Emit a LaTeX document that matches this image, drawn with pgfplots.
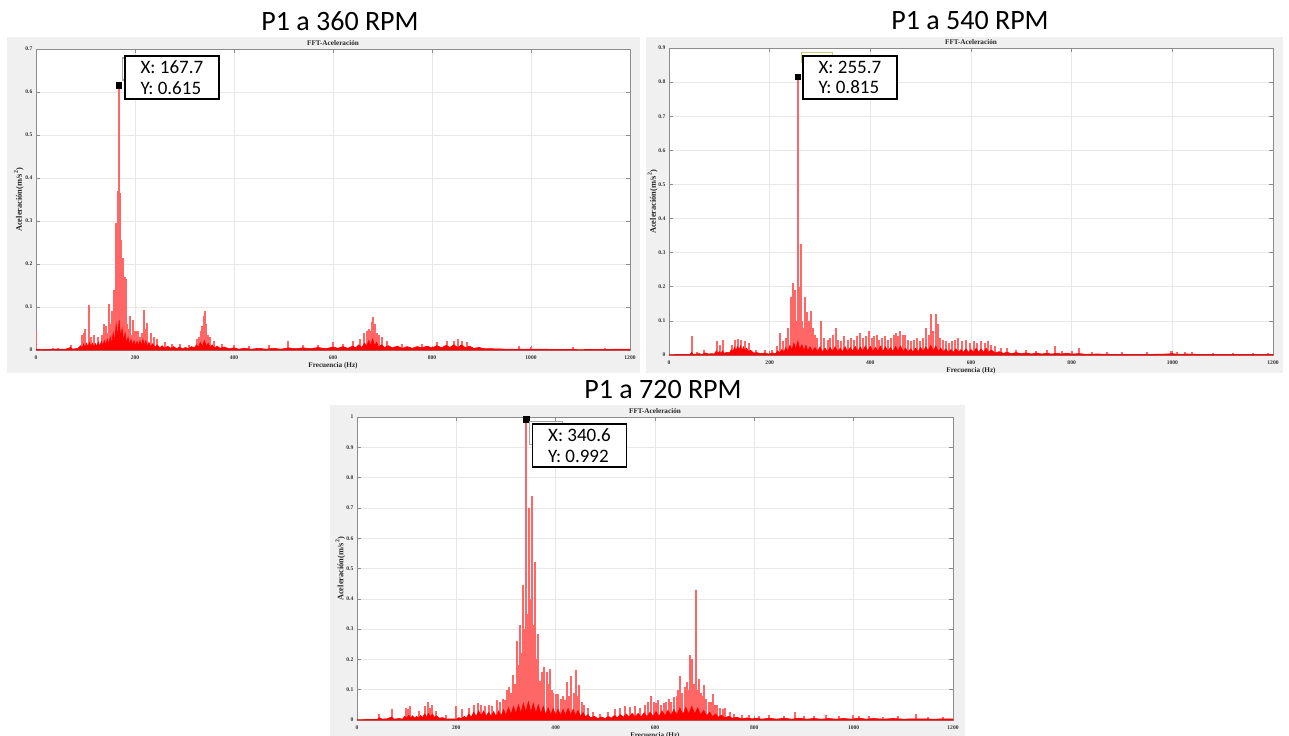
\documentclass[border=0pt]{standalone}
\usepackage{pgfplots}
\pgfplotsset{compat=1.18}
\usepackage{fontspec}
\setmainfont{Liberation Serif}
\newfontfamily\calfont{Carlito}

% MATLAB-like figure style
\newcommand{\tickfont}{\fontsize{2.8}{3.2}\selectfont\bfseries}
\newcommand{\labfont}{\fontsize{3.6}{4.2}\selectfont\bfseries}
\newcommand{\ylabfont}{\fontsize{4.2}{4.8}\selectfont\bfseries}
\pgfplotsset{
  mat/.style={
    scale only axis, anchor=south west,
    xmin=0, xmax=1200, ymin=0,
    xtick={0,200,400,600,800,1000,1200},
    axis background/.style={fill=white},
    axis line style={black!45, line width=0.3pt},
    tick style={black!45, line width=0.3pt},
    major tick length=2pt,
    tick align=inside, xtick pos=both, ytick pos=both,
    grid=major, major grid style={gray!18, line width=0.3pt},
    ticklabel style={font=\tickfont, text=black!80},
    /pgf/number format/assume math mode=true,
    /pgf/number format/1000 sep={},
    xticklabel style={anchor=center, yshift=-3.6pt},
    yticklabel style={anchor=east, inner sep=0pt, xshift=-1.6pt,
      /pgf/number format/fixed, /pgf/number format/precision=1},
    title={FFT-Aceleración},
    title style={font=\labfont, text=black!85, at={(axis description cs:0.5,1.02)}, anchor=center, inner sep=0pt, yshift=-6pt},
    xlabel={Frecuencia (Hz)},
    xlabel style={font=\labfont, text=black!85, at={(axis description cs:0.5,-0.053)}, anchor=center, inner sep=0pt},
    ylabel={Aceleración(m/s\textsuperscript{2})},
    ylabel style={font=\ylabfont, text=black!85, at={(axis description cs:-0.029,0.5)}, anchor=center, inner sep=0pt},
  },
  floor/.style={red, fill=red, line width=0.3pt, mark=none},
  comb/.style={ycomb, red!60, line width=1pt, mark=none},
  tip/.style={only marks, mark=square*, mark size=1.4pt, mark options={black}},
}

\begin{document}
\begin{tikzpicture}
\useasboundingbox (0pt,0pt) rectangle (644.5pt,-367.5pt);
\clip (0pt,0pt) rectangle (644.5pt,-367.5pt);

% figure backgrounds
\fill[gray!12] (3.5pt,-18.5pt) rectangle (320pt,-186.5pt);
\fill[gray!12] (323pt,-18.5pt) rectangle (641.5pt,-186.5pt);
\fill[gray!12] (165pt,-202.5pt) rectangle (482.5pt,-370pt);

% ---------- P1 a 360 RPM ----------
\begin{axis}[mat, at={(18pt,-175pt)}, width=297pt, height=150.5pt,
  ymax=0.7, ytick={0,0.1,0.2,0.3,0.4,0.5,0.6,0.7}]
\addplot[comb] coordinates {
(0,0.045) (35,0.004) (45,0.005) (70,0.012) (93,0.035) (96,0.04) (99,0.05) (107,0.105) (112,0.03)
(118,0.035) (126,0.03) (133,0.035) (138,0.06) (141,0.055) (145,0.04) (148,0.107) (151,0.06)
(154,0.09) (157,0.14) (159,0.12) (162,0.295) (164,0.14) (166,0.37) (167.7,0.615) (169,0.365)
(171,0.255) (173,0.2) (175,0.215) (177,0.16) (179,0.17) (181,0.165) (184,0.06) (187,0.05)
(190,0.08) (193,0.035) (195,0.07) (199,0.045) (203,0.045) (207,0.045) (211,0.03) (215,0.04)
(219,0.093) (222,0.05) (225,0.062) (232,0.04) (238,0.03) (245,0.025) (260,0.018) (275,0.015)
(290,0.015) (310,0.012) (325,0.025) (330,0.03) (333,0.045) (336,0.055) (339,0.08) (341,0.09)
(344,0.06) (347,0.035) (352,0.03) (360,0.02) (375,0.015) (400,0.012) (430,0.01) (470,0.012)
(510,0.02) (540,0.012) (570,0.012) (600,0.018) (620,0.015) (640,0.02) (655,0.025) (662,0.04)
(668,0.045) (672,0.05) (675,0.045) (678,0.065) (681,0.077) (684,0.06) (688,0.04) (692,0.035)
(698,0.03) (710,0.02) (740,0.015) (780,0.015) (810,0.018) (830,0.02) (845,0.022) (853,0.025)
(860,0.022) (870,0.018) (976,0.01) (1000,0.006) (1084,0.008) (1150,0.004)};
\addplot[floor] coordinates {
(0,0.002) (10,0.001) (40,0.002) (60,0.002) (70,0.006) (74,0.002) (85,0.004)
(90,0.01) (93,0.004) (96,0.014) (99,0.006) (102,0.016) (105,0.007) (108,0.018) (111,0.008)
(114,0.016) (117,0.007) (120,0.015) (123,0.008) (126,0.018) (129,0.009) (132,0.02) (135,0.01)
(138,0.022) (141,0.012) (144,0.025) (147,0.012) (150,0.03) (153,0.015) (156,0.04) (159,0.02)
(162,0.06) (165,0.03) (168,0.07) (171,0.03) (174,0.05) (177,0.02) (180,0.04) (183,0.015)
(186,0.03) (189,0.012) (192,0.025) (195,0.01) (198,0.022) (201,0.01) (204,0.02) (207,0.01)
(210,0.022) (213,0.01) (216,0.025) (219,0.01) (222,0.022) (225,0.008) (228,0.018) (232,0.007)
(236,0.015) (240,0.006) (245,0.012) (250,0.005) (255,0.01) (260,0.004) (266,0.009) (272,0.004)
(278,0.008) (284,0.003) (290,0.007) (296,0.003) (302,0.006) (308,0.003) (314,0.008) (320,0.005)
(324,0.012) (328,0.006) (332,0.018) (336,0.008) (340,0.022) (344,0.009) (348,0.016) (352,0.006)
(356,0.012) (360,0.005) (366,0.009) (372,0.004) (380,0.007) (390,0.003) (400,0.005) (410,0.002)
(420,0.004) (435,0.002) (450,0.004) (465,0.002) (480,0.004) (495,0.002) (510,0.005) (525,0.003)
(540,0.005) (555,0.003) (570,0.006) (585,0.003) (600,0.007) (610,0.004) (620,0.008) (630,0.004)
(640,0.009) (646,0.005) (652,0.012) (658,0.006) (664,0.016) (668,0.008) (672,0.022) (676,0.01)
(680,0.026) (684,0.01) (688,0.018) (692,0.007) (698,0.012) (704,0.006) (712,0.01) (720,0.005)
(730,0.009) (740,0.004) (750,0.008) (760,0.004) (770,0.008) (780,0.005) (790,0.009) (800,0.005)
(810,0.01) (820,0.005) (828,0.011) (836,0.006) (844,0.012) (852,0.006) (860,0.012) (868,0.005)
(876,0.009) (884,0.004) (895,0.006) (905,0.003) (920,0.003) (950,0.002) (1000,0.002)
(1100,0.001) (1200,0.002)} \closedcycle;
\addplot[tip] coordinates {(167.7,0.615)};
\end{axis}

% ---------- P1 a 540 RPM ----------
\begin{axis}[mat, at={(334.5pt,-177.5pt)}, width=302pt, height=153.5pt,
  ymax=0.9, ytick={0,0.1,0.2,0.3,0.4,0.5,0.6,0.7,0.8,0.9},
  xlabel style={at={(axis description cs:0.5,-0.052)}},
  ylabel style={at={(axis description cs:-0.027,0.5)}}]
\addplot[comb] coordinates {
(45,0.055) (55,0.01) (70,0.015) (95,0.04) (101,0.03) (107,0.045) (125,0.03) (132,0.045)
(138,0.048) (143,0.045) (150,0.04) (158,0.035) (172,0.015) (190,0.015) (205,0.015) (215,0.025)
(220,0.065) (226,0.04) (232,0.05) (237,0.08) (242,0.17) (245,0.12) (247,0.21) (249,0.15)
(251,0.19) (253,0.1) (255.7,0.815) (258,0.2) (260,0.12) (262,0.325) (265,0.1) (268,0.08)
(270,0.17) (272,0.11) (274,0.125) (276,0.08) (278,0.1) (282,0.13) (286,0.08) (290,0.06)
(295,0.05) (301,0.1) (308,0.05) (315,0.045) (320,0.05) (325,0.06) (331,0.08) (336,0.045)
(342,0.04) (348,0.055) (355,0.045) (362,0.05) (368,0.045) (374,0.055) (380,0.065) (386,0.05)
(392,0.055) (398,0.07) (403,0.05) (408,0.055) (413,0.06) (418,0.045) (424,0.05) (430,0.055)
(436,0.045) (442,0.05) (447,0.06) (451,0.065) (455,0.055) (459,0.07) (464,0.06) (469,0.06)
(474,0.045) (480,0.04) (486,0.045) (492,0.05) (498,0.04) (505,0.05) (511,0.08) (516,0.06)
(521,0.12) (525,0.07) (530,0.12) (534,0.09) (538,0.05) (544,0.045) (550,0.04) (556,0.035)
(562,0.04) (568,0.045) (575,0.05) (582,0.04) (590,0.045) (598,0.035) (605,0.04) (612,0.035)
(620,0.04) (628,0.035) (634,0.042) (640,0.03) (648,0.025) (660,0.02) (672,0.02) (690,0.015)
(710,0.015) (730,0.012) (750,0.015) (767,0.025) (780,0.012) (800,0.012) (814,0.02) (840,0.01)
(870,0.008) (900,0.008) (950,0.008) (998,0.012) (1010,0.01) (1025,0.009) (1040,0.01)
(1080,0.006) (1120,0.005) (1160,0.006) (1190,0.005)};
\addplot[floor] coordinates {
(0,0.001) (30,0.002) (42,0.002) (45,0.008) (48,0.002) (60,0.004) (66,0.002) (72,0.006) (78,0.003)
(85,0.004) (90,0.003) (94,0.012) (97,0.005) (100,0.01) (103,0.004) (106,0.012) (110,0.005)
(116,0.008) (120,0.006) (124,0.016) (127,0.01) (130,0.022) (133,0.012) (136,0.025) (139,0.014)
(142,0.026) (145,0.013) (148,0.024) (151,0.012) (154,0.02) (158,0.01) (162,0.014) (168,0.006)
(175,0.007) (182,0.004) (190,0.006) (198,0.003) (206,0.006) (212,0.004) (216,0.012) (220,0.006)
(224,0.016) (228,0.008) (232,0.022) (236,0.01) (240,0.028) (244,0.014) (248,0.035) (252,0.016)
(256,0.04) (260,0.016) (264,0.03) (268,0.012) (272,0.028) (276,0.012) (280,0.024) (285,0.01)
(290,0.022) (295,0.01) (300,0.024) (305,0.009) (310,0.02) (315,0.01) (320,0.022) (325,0.01)
(330,0.024) (335,0.01) (340,0.02) (345,0.01) (350,0.024) (355,0.01) (360,0.022) (365,0.011)
(370,0.025) (375,0.01) (380,0.024) (385,0.011) (390,0.026) (395,0.012) (400,0.025) (405,0.01)
(410,0.022) (415,0.011) (420,0.026) (425,0.01) (430,0.024) (435,0.011) (440,0.022) (445,0.01)
(450,0.025) (455,0.012) (460,0.026) (465,0.01) (470,0.02) (475,0.009) (480,0.018) (485,0.009)
(490,0.02) (495,0.01) (500,0.022) (505,0.01) (510,0.024) (515,0.012) (520,0.028) (525,0.012)
(530,0.026) (535,0.01) (540,0.02) (545,0.009) (550,0.018) (555,0.008) (560,0.016) (565,0.008)
(570,0.018) (575,0.008) (580,0.016) (585,0.008) (590,0.018) (595,0.008) (600,0.016) (605,0.008)
(610,0.02) (615,0.008) (620,0.018) (625,0.008) (630,0.02) (635,0.008) (640,0.015) (648,0.006)
(656,0.01) (664,0.005) (672,0.008) (680,0.004) (690,0.007) (700,0.004) (710,0.006) (720,0.003)
(730,0.006) (740,0.003) (750,0.005) (760,0.003) (770,0.005) (780,0.003) (790,0.005) (800,0.003)
(815,0.004) (830,0.002) (850,0.003) (880,0.002) (920,0.002) (960,0.002) (990,0.003) (1000,0.004)
(1010,0.002) (1030,0.003) (1050,0.002) (1100,0.002) (1150,0.002) (1200,0.002)} \closedcycle;
\addplot[tip] coordinates {(255.7,0.815)};
\end{axis}

% ---------- P1 a 720 RPM ----------
\begin{axis}[mat, at={(178.5pt,-360pt)}, width=298pt, height=151.5pt,
  ymax=1, ytick={0,0.1,0.2,0.3,0.4,0.5,0.6,0.7,0.8,0.9,1},
  ylabel style={at={(axis description cs:-0.028,0.5)}}]
\addplot[comb] coordinates {
(44,0.02) (71,0.035) (98,0.04) (103,0.035) (107,0.045) (125,0.03) (136,0.045) (142,0.06)
(147,0.04) (152,0.05) (160,0.03) (180,0.015) (199,0.045) (211,0.035) (225,0.04) (235,0.05)
(243,0.055) (250,0.05) (258,0.045) (265,0.05) (272,0.045) (281,0.065) (287,0.06) (293,0.07)
(298,0.065) (303,0.1) (307,0.11) (311,0.09) (315,0.15) (318,0.12) (322,0.26) (325,0.18)
(328,0.315) (331,0.22) (334,0.445) (337,0.3) (340.6,0.992) (343,0.35) (346,0.7) (349,0.4)
(352,0.74) (355,0.315) (359,0.52) (362,0.2) (365,0.285) (368,0.13) (372,0.16) (377,0.175)
(382,0.16) (385,0.12) (389,0.17) (392,0.1) (395,0.09) (400,0.085) (405,0.085) (410,0.07)
(415,0.08) (419,0.065) (423,0.125) (427,0.08) (431,0.145) (436,0.09) (441,0.165) (444,0.08)
(447,0.115) (452,0.06) (458,0.05) (465,0.04) (475,0.025) (490,0.02) (505,0.025) (520,0.035)
(530,0.04) (540,0.045) (550,0.042) (560,0.045) (570,0.04) (580,0.05) (586,0.06) (592,0.08)
(597,0.06) (602,0.055) (607,0.065) (613,0.05) (618,0.055) (623,0.06) (628,0.07) (633,0.06)
(638,0.075) (644,0.08) (647,0.1) (650,0.145) (655,0.09) (660,0.11) (664,0.125) (667,0.1)
(670,0.215) (673,0.15) (675,0.2) (678,0.12) (682,0.43) (685,0.1) (689,0.135) (693,0.09)
(696,0.08) (699,0.115) (703,0.07) (708,0.06) (713,0.06) (717,0.085) (721,0.05) (725,0.05)
(730,0.04) (736,0.035) (741,0.04) (750,0.025) (760,0.02) (775,0.015) (790,0.015) (810,0.012)
(830,0.015) (860,0.012) (882,0.025) (900,0.012) (920,0.012) (944,0.018) (970,0.012)
(999,0.015) (1010,0.014) (1030,0.012) (1060,0.01) (1090,0.012) (1125,0.02) (1150,0.01)
(1180,0.01)};
\addplot[floor] coordinates {
(0,0.001) (30,0.002) (42,0.003) (45,0.008) (50,0.003) (60,0.004) (70,0.01) (74,0.003) (85,0.005)
(92,0.003) (96,0.012) (100,0.006) (104,0.016) (108,0.007) (112,0.014) (116,0.006) (120,0.012)
(124,0.006) (128,0.015) (132,0.008) (136,0.02) (140,0.01) (144,0.022) (148,0.01) (152,0.02)
(156,0.008) (160,0.014) (166,0.006) (172,0.008) (180,0.003) (190,0.004) (200,0.003) (205,0.008)
(210,0.004) (216,0.012) (220,0.006) (225,0.02) (230,0.01) (235,0.026) (240,0.012) (245,0.03)
(250,0.014) (255,0.03) (260,0.012) (265,0.026) (270,0.012) (275,0.028) (280,0.012) (285,0.03)
(290,0.014) (295,0.034) (300,0.015) (305,0.04) (310,0.018) (315,0.045) (320,0.02) (325,0.05)
(330,0.022) (335,0.055) (340,0.025) (345,0.06) (350,0.025) (355,0.055) (360,0.022) (365,0.05)
(370,0.02) (375,0.045) (380,0.018) (385,0.04) (390,0.016) (395,0.038) (400,0.015) (405,0.036)
(410,0.015) (415,0.035) (420,0.016) (425,0.038) (430,0.016) (435,0.035) (440,0.015) (445,0.032)
(450,0.012) (455,0.025) (460,0.01) (465,0.018) (470,0.007) (478,0.012) (485,0.005) (492,0.01)
(500,0.005) (506,0.012) (512,0.006) (518,0.015) (524,0.008) (530,0.018) (536,0.009) (542,0.02)
(548,0.01) (554,0.022) (560,0.01) (566,0.022) (572,0.01) (578,0.024) (584,0.011) (590,0.026)
(596,0.012) (602,0.028) (608,0.012) (614,0.03) (620,0.014) (626,0.032) (632,0.015) (638,0.035)
(644,0.016) (650,0.04) (656,0.018) (662,0.042) (668,0.02) (674,0.045) (680,0.02) (686,0.04)
(692,0.016) (698,0.032) (704,0.014) (710,0.026) (716,0.011) (722,0.02) (728,0.009) (734,0.016)
(740,0.007) (748,0.012) (756,0.006) (765,0.009) (775,0.004) (785,0.007) (795,0.004) (805,0.006)
(815,0.003) (830,0.006) (845,0.003) (860,0.006) (875,0.003) (890,0.006) (905,0.003) (920,0.005)
(935,0.003) (950,0.005) (965,0.003) (980,0.005) (995,0.003) (1010,0.006) (1025,0.003)
(1040,0.005) (1060,0.003) (1080,0.005) (1100,0.003) (1130,0.004) (1160,0.003) (1200,0.004)}
\closedcycle;
\addplot[tip] coordinates {(340.6,0.992)};
\end{axis}

% panel titles
\node[font=\calfont\fontsize{14}{16}\selectfont] at (170pt,-10.5pt) {P1 a 360 RPM};
\node[font=\calfont\fontsize{14}{16}\selectfont] at (485pt,-10.5pt) {P1 a 540 RPM};
\node[font=\calfont\fontsize{14}{16}\selectfont] at (331.5pt,-195pt) {P1 a 720 RPM};

% remnants of the original MATLAB data tips
\draw[gray!70, line width=0.6pt] (61.3pt,-29pt) rectangle (100pt,-40pt);
\draw[olive!45, line width=0.5pt] (400.5pt,-26pt) rectangle (416pt,-31pt);
\draw[gray!70, line width=0.5pt] (264.5pt,-210.5pt) rectangle (281pt,-222pt);

% data tip boxes
\tikzset{tipbox/.style={draw=black, line width=0.9pt, fill=white, anchor=north west,
  minimum width=47pt, minimum height=21.5pt, align=left, inner sep=0pt,
  font=\calfont\fontsize{9.5}{10.3}\selectfont}}
\node[tipbox] at (62pt,-27.5pt) {X: 167.7\\Y: 0.615};
\node[tipbox] at (401pt,-27.5pt) {X: 255.7\\Y: 0.815};
\node[tipbox] at (265.8pt,-211.5pt) {X: 340.6\\Y: 0.992};
\end{tikzpicture}
\end{document}
